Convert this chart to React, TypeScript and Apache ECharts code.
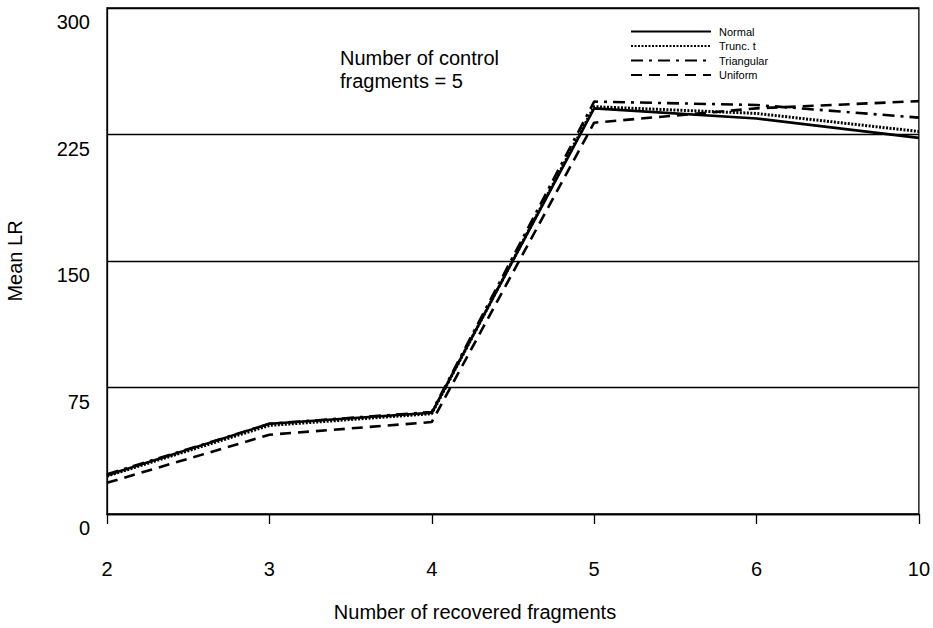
import React, { useEffect, useRef } from "react";
import * as echarts from "echarts";

// Number of recovered fragments (x categories)
const recovered = ["2", "3", "4", "5", "6", "10"];

// Mean LR per distribution
const normal = [23, 53.5, 60, 240.5, 234.5, 223];
const truncT = [22.5, 52.5, 59.5, 241.5, 237.5, 226.8];
const triangular = [23.5, 53.5, 60.5, 244.5, 242.5, 235];
const uniform = [18.5, 47, 54.5, 232, 240.5, 244.8];

const yTicks = [0, 75, 150, 225, 300];

const FONT = "Liberation Sans, Arial, sans-serif";

export default function App() {
  const ref = useRef<HTMLDivElement>(null);

  useEffect(() => {
    if (!ref.current) return;
    const chart = echarts.init(ref.current, null, { renderer: "svg" });

    const mk = (name: string, data: number[], type: any, width: number) => ({
      name,
      type: "line",
      data,
      symbol: "none",
      showSymbol: false,
      lineStyle: { color: "#000", width, type, cap: "butt" },
      itemStyle: { color: "#000" },
      emphasis: { disabled: true },
    });

    chart.setOption({
      animation: false,
      backgroundColor: "#fff",
      textStyle: { fontFamily: FONT },
      grid: {
        left: 107,
        right: 14,
        top: 8,
        bottom: 114,
        show: true,
        borderColor: "#000",
        borderWidth: 1.3,
        backgroundColor: "transparent",
      },
      legend: {
        orient: "vertical",
        left: 630,
        top: 26,
        padding: 0,
        itemWidth: 80,
        itemHeight: 14,
        itemGap: 3.3,
        itemStyle: { opacity: 0 },
        textStyle: { fontSize: 11, color: "#000", fontFamily: FONT, padding: [2, 0, 0, 3] },
        data: ["Normal", "Trunc. t", "Triangular", "Uniform"],
      },
      xAxis: {
        type: "category",
        data: recovered,
        boundaryGap: false,
        axisLine: { show: true, lineStyle: { color: "#000", width: 1.3 } },
        axisTick: { show: true, inside: false, length: 10, lineStyle: { color: "#000", width: 1.3 } },
        axisLabel: { color: "#000", fontSize: 20, margin: 45, fontFamily: FONT },
        splitLine: { show: false },
      },
      yAxis: {
        type: "value",
        min: 0,
        max: 300,
        interval: 75,
        axisLine: { show: true, lineStyle: { color: "#000", width: 1.3 } },
        axisTick: { show: false },
        axisLabel: {
          color: "#000",
          fontSize: 20,
          margin: 17,
          fontFamily: FONT,
          verticalAlign: "top",
          padding: [4, 0, 0, 0],
          formatter: (v: number) => (yTicks.includes(v) ? String(v) : ""),
        },
        splitLine: { show: true, lineStyle: { color: "#000", width: 1.3 } },
      },
      series: [
        mk("Normal", normal, "solid", 2.6),
        mk("Trunc. t", truncT, [2, 1.5], 3),
        mk("Triangular", triangular, [12, 6, 3, 6], 2.6),
        mk("Uniform", uniform, [11, 7], 2.6),
      ],
      graphic: [
        {
          type: "text",
          left: 340,
          top: 46,
          style: {
            text: "Number of control\nfragments = 5",
            font: `20px ${FONT}`,
            lineHeight: 23,
            fill: "#000",
          },
        },
        {
          type: "text",
          x: 475,
          y: 612,
          style: {
            text: "Number of recovered fragments",
            font: `20px ${FONT}`,
            fill: "#000",
            align: "center",
            verticalAlign: "middle",
          },
        },
        {
          type: "text",
          x: 15,
          y: 261,
          rotation: Math.PI / 2,
          style: {
            text: "Mean LR",
            font: `20px ${FONT}`,
            fill: "#000",
            align: "center",
            verticalAlign: "middle",
          },
        },
      ],
    });

    return () => chart.dispose();
  }, []);

  return (
    <div
      ref={ref}
      style={{ position: "absolute", left: 0, top: 0, width: 933, height: 628 }}
    />
  );
}
